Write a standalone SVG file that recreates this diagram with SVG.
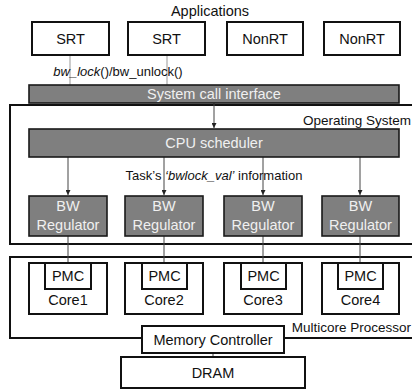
<svg xmlns="http://www.w3.org/2000/svg" width="412" height="390" viewBox="0 0 412 390">
<defs>
<style>
text{font-family:"Liberation Sans",Arial,sans-serif;font-size:14.5px;fill:#111;}
.c{text-anchor:middle;}
.w{fill:#f0f0f0;}
.box{fill:#fff;stroke:#111;stroke-width:2;}
.gray{fill:#7f7f7f;stroke:#1a1a1a;stroke-width:1.6;}
.ln{stroke:#444;stroke-width:1;fill:none;}
.lt{stroke:#999;stroke-width:1;fill:none;}
</style>
<marker id="ah" viewBox="0 0 8 8" refX="8" refY="4" markerWidth="5" markerHeight="5" orient="auto">
<path d="M0,0 L8,4 L0,8 z" fill="#222"/>
</marker>
</defs>
<rect width="412" height="390" fill="#fff"/>

<g id="os">
<rect class="box" x="10" y="105" width="410" height="139"/>
<text x="411" y="125" style="text-anchor:end;font-size:13.5px">Operating System</text>
</g>
<g id="multicore">
<rect class="box" x="10" y="257" width="410" height="81"/>
<text x="411" y="332" style="text-anchor:end;font-size:13.5px">Multicore Processor</text>
</g>

<text class="c" x="210" y="16">Applications</text>

<g id="connectors">
<line class="lt" x1="70" y1="55" x2="70" y2="85"/>
<line class="lt" x1="167" y1="55" x2="167" y2="85"/>
<line class="ln" x1="214" y1="103" x2="214" y2="128" marker-end="url(#ah)"/>
<line class="ln" x1="68" y1="157" x2="68" y2="195" marker-end="url(#ah)"/>
<line class="ln" x1="164" y1="157" x2="164" y2="195" marker-end="url(#ah)"/>
<line class="ln" x1="263" y1="157" x2="263" y2="195" marker-end="url(#ah)"/>
<line class="ln" x1="360" y1="157" x2="360" y2="195" marker-end="url(#ah)"/>
<line class="ln" x1="68" y1="236" x2="68" y2="263"/>
<line class="ln" x1="164" y1="236" x2="164" y2="263"/>
<line class="ln" x1="263" y1="236" x2="263" y2="263"/>
<line class="ln" x1="360" y1="236" x2="360" y2="263"/>
<line class="ln" x1="213" y1="353" x2="213" y2="357"/>
</g>

<text x="118" y="76" class="c" style="font-size:13px"><tspan font-style="italic">bw_lock</tspan>()/bw_unlock()</text>
<text x="214" y="180" class="c" style="font-size:13px">Task’s <tspan font-style="italic">‘bwlock_val’</tspan> information</text>

<g id="srt1"><rect class="box" x="32" y="22" width="77" height="33"/><text class="c" x="70.5" y="44">SRT</text></g>
<g id="srt2"><rect class="box" x="128" y="22" width="77" height="33"/><text class="c" x="166.5" y="44">SRT</text></g>
<g id="nonrt1"><rect class="box" x="227" y="22" width="76" height="33"/><text class="c" x="265" y="44">NonRT</text></g>
<g id="nonrt2"><rect class="box" x="324" y="22" width="76" height="33"/><text class="c" x="362" y="44">NonRT</text></g>

<g id="syscall"><rect class="gray" x="29" y="85" width="370" height="18"/><text class="c w" x="214" y="99">System call interface</text></g>
<g id="cpusched"><rect class="gray" x="29" y="129" width="370" height="28"/><text class="c w" x="214" y="148">CPU scheduler</text></g>

<g id="bw1"><rect class="gray" x="29" y="196" width="78" height="40"/><text class="c w" x="68" y="211">BW</text><text class="c w" x="68" y="230">Regulator</text></g>
<g id="bw2"><rect class="gray" x="125" y="196" width="78" height="40"/><text class="c w" x="164" y="211">BW</text><text class="c w" x="164" y="230">Regulator</text></g>
<g id="bw3"><rect class="gray" x="224" y="196" width="78" height="40"/><text class="c w" x="263" y="211">BW</text><text class="c w" x="263" y="230">Regulator</text></g>
<g id="bw4"><rect class="gray" x="322" y="196" width="77" height="40"/><text class="c w" x="360.5" y="211">BW</text><text class="c w" x="360.5" y="230">Regulator</text></g>

<g id="core1"><rect class="box" x="29" y="263" width="78" height="51"/><rect class="box" x="45" y="263" width="46" height="26"/><text class="c" x="68" y="281">PMC</text><text class="c" x="68" y="305">Core1</text></g>
<g id="core2"><rect class="box" x="125" y="263" width="78" height="51"/><rect class="box" x="142" y="263" width="45" height="26"/><text class="c" x="164.5" y="281">PMC</text><text class="c" x="164" y="305">Core2</text></g>
<g id="core3"><rect class="box" x="224" y="263" width="78" height="51"/><rect class="box" x="241" y="263" width="45" height="26"/><text class="c" x="263.5" y="281">PMC</text><text class="c" x="263" y="305">Core3</text></g>
<g id="core4"><rect class="box" x="322" y="263" width="77" height="51"/><rect class="box" x="338" y="263" width="45" height="26"/><text class="c" x="360.5" y="281">PMC</text><text class="c" x="360.5" y="305">Core4</text></g>

<g id="memctrl"><rect class="box" x="142" y="326" width="142" height="27"/><text class="c" x="213" y="345">Memory Controller</text></g>
<g id="dram"><rect class="box" x="121" y="357" width="184" height="31"/><text class="c" x="213" y="378">DRAM</text></g>
</svg>
